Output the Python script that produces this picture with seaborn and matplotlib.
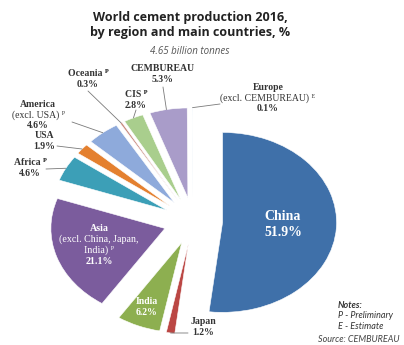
import matplotlib
matplotlib.use("Agg")
import matplotlib.pyplot as plt
import seaborn as sns
import numpy as np

# Share of world cement production 2016, by region / country (%)
regions = ["China", "Japan", "India", "Asia", "Africa", "USA",
           "America", "Oceania", "CIS", "CEMBUREAU", "Europe"]
shares = [51.9, 1.2, 6.2, 21.1, 4.6, 1.9, 4.6, 0.3, 2.8, 5.3, 0.1]
label_names = ["China", "Japan", "India",
               "Asia\n(excl. China, Japan,\nIndia) ᴾ",
               "Africa ᴾ", "USA", "America\n(excl. USA) ᴾ", "Oceania ᴾ",
               "CIS ᴾ", "CEMBUREAU", "Europe\n(excl. CEMBUREAU) ᴱ"]
slice_colors = ["#3F70A9", "#BB4744", "#8DAF50", "#7B5C9D", "#3C9FB7",
                "#E4802F", "#8EAADB", "#C98B80", "#A9CE8D", "#A99CC9",
                "#B9D4EA"]

W, H = 404, 345
sns.set_theme(style="white")
plt.rcParams["font.family"] = ["Liberation Serif", "DejaVu Serif"]

fig = plt.figure(figsize=(W / 100, H / 100), dpi=100)
ax = fig.add_axes([0, 0, 1, 1])
palette = sns.color_palette(slice_colors)

wedges, _ = ax.pie(shares, explode=[0.26] * len(shares), startangle=90,
                   counterclock=False, colors=palette,
                   wedgeprops=dict(edgecolor="white", linewidth=0.4))
ax.set_aspect("auto")
ax.set_xlim(-1.693, 1.851)
ax.set_ylim(-1.378, 2.456)
ax.axis("off")


def fpos(px, py):
    return (px / W, 1 - py / H)


def rim(w, frac=0.5, rr=1.0):
    ang = np.deg2rad(w.theta1 + frac * (w.theta2 - w.theta1))
    cx, cy = w.center
    return (cx + rr * w.r * np.cos(ang), cy + rr * w.r * np.sin(ang))


def draw_label(i, px, py, color, size=7, step=10.5):
    """Name lines (parenthetical ones in regular weight) plus a bold share."""
    lines = []
    regular = False
    for part in label_names[i].split("\n"):
        if part.startswith("("):
            regular = True
        lines.append((part, "normal" if regular else "bold"))
    lines.append((f"{shares[i]:.1f}%", "bold"))
    top = py - step * (len(lines) - 1) / 2
    for k, (txt, wt) in enumerate(lines):
        fig.text(*fpos(px, top + k * step), txt, ha="center", va="center",
                 fontsize=size, fontweight=wt, color=color)


dark = "#333333"
line_kw = dict(arrowstyle="-", color="#7a7a7a", lw=0.6, shrinkA=0, shrinkB=0)

# labels outside the pie, with leader lines
outside = {
    # index: (label x, label y, line start x, line start y, frac along arc)
    7: (88, 79, 88, 91, 0.5),
    9: (163, 74, 163, 87, 0.55),
    8: (136, 100, 136, 110, 0.5),
    10: (268, 98, 220, 104, 0.5),
    6: (38, 115, 72, 122, 0.5),
    5: (44, 141, 57, 146, 0.5),
    4: (30, 168, 46, 169, 0.5),
    1: (203, 327, 188, 333, 0.5),
}
for i, (tx, ty, lx, ly, fr) in outside.items():
    draw_label(i, tx, ty, dark)
    ax.annotate("", xy=rim(wedges[i], fr), xycoords="data",
                xytext=fpos(lx, ly), textcoords="figure fraction",
                arrowprops=line_kw)

# labels inside the larger slices
draw_label(0, 283, 224, "white", size=10, step=16)
draw_label(3, 99, 245, "white", size=7.2, step=11)
draw_label(2, 147, 307, "white")

# titles
fig.text(*fpos(190, 25), "World cement production 2016,\nby region and main countries, %",
         ha="center", va="center", fontsize=9, fontweight="bold",
         family=["Open Sans", "DejaVu Sans"], color="#222222", linespacing=1.2)
fig.text(*fpos(190, 51), "4.65 billion tonnes", ha="center", va="center",
         fontsize=7, style="italic", family=["Open Sans", "DejaVu Sans"],
         color="#555555")

# notes
fig.text(*fpos(338, 305), "Notes:", ha="left", va="center", fontsize=6.5,
         fontweight="bold", style="italic", family=["Lato", "DejaVu Sans"],
         color="#333333")
fig.text(*fpos(338, 321), "P - Preliminary\nE - Estimate", ha="left",
         va="center", fontsize=6.5, style="italic",
         family=["Lato", "DejaVu Sans"], color="#333333", linespacing=1.15)
fig.text(*fpos(318, 339), "Source: CEMBUREAU", ha="left", va="center",
         fontsize=6.5, style="italic", family=["Lato", "DejaVu Sans"],
         color="#444444")

fig.savefig("out.png", dpi=100, facecolor="white")
